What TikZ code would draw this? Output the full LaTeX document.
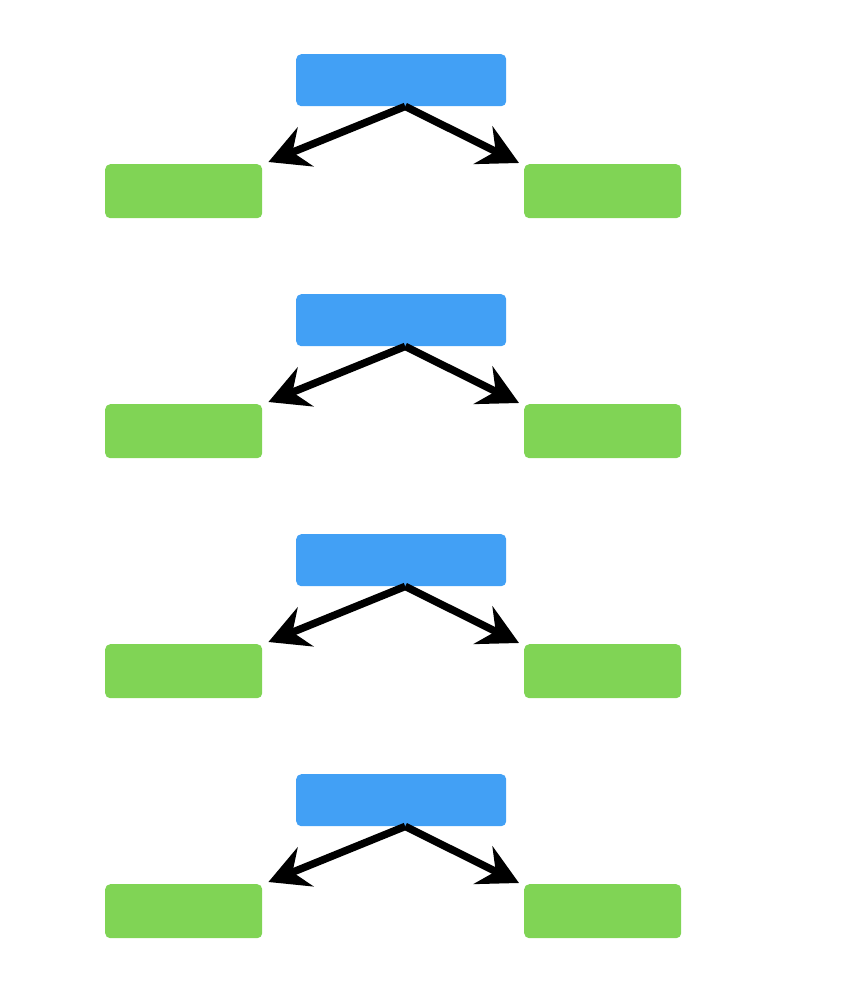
\documentclass[tikz,border=0pt]{standalone}
\usetikzlibrary{arrows.meta,calc}
\definecolor{topblue}{HTML}{42A0F5}
\definecolor{leafgreen}{HTML}{80D455}
\tikzset{
  topbox/.style={fill=topblue, draw=none, rounded corners=5pt, minimum width=210pt, minimum height=52pt, inner sep=0pt, anchor=north west},
  leafbox/.style={fill=leafgreen, draw=none, rounded corners=5pt, minimum width=157pt, minimum height=54pt, inner sep=0pt, anchor=north west},
  link/.style={line width=7.5pt, line join=round, -{Stealth[length=40pt, width=42pt, inset=14pt]}}
}
\begin{document}
\begin{tikzpicture}[x=1pt, y=-1pt]
\useasboundingbox (0,0) rectangle (854,1004);
\foreach \i in {1,...,4}{
  \pgfmathsetmacro{\dy}{(\i-1)*240}
  \node[topbox] (b\i) at (296,54+\dy) {};
  \node[leafbox] (l\i) at (105,164+\dy) {};
  \node[leafbox] (r\i) at (524,164+\dy) {};
  \coordinate (s\i) at ($(b\i.south)+(4,0)$);
  \draw[link] (s\i) -- ($(l\i.north east)+(6,-2)$);
  \draw[link] (s\i) -- ($(r\i.north west)+(-5,-1)$);
}
\end{tikzpicture}
\end{document}
